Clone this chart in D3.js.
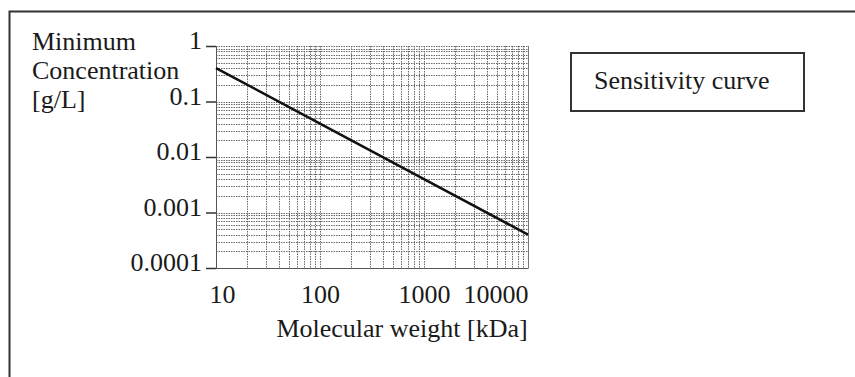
<!DOCTYPE html>
<html>
<head>
<meta charset="utf-8">
<script src="https://cdn.jsdelivr.net/npm/d3@7"></script>
<style>
  body { margin: 0; background: #fff; }
  text { font-family: "Liberation Serif", "Times New Roman", serif; fill: #1a1a1a; }
</style>
</head>
<body>
<div id="chart"></div>
<script>
// Data
const molWeight = [10, 100, 1000, 10000];
const minConc = [0.4, 0.04, 0.004, 0.0004];
const xTicks = [10, 100, 1000, 10000];
const yTicks = [1, 0.1, 0.01, 0.001, 0.0001];
const yTitle = ['Minimum', 'Concentration', '[g/L]'];
const legendLabel = 'Sensitivity curve';

// Dimensions
const width = 855;
const height = 377;
const plot = { left: 216, right: 528, top: 46, bottom: 268 };

const svg = d3.select('#chart')
  .append('svg')
  .attr('width', width)
  .attr('height', height);

// Outer frame (only top and left edges fall inside the picture)
svg.append('rect')
  .attr('x', 9.5)
  .attr('y', 11.5)
  .attr('width', width + 20)
  .attr('height', height + 20)
  .attr('fill', 'none')
  .attr('stroke', '#333')
  .attr('stroke-width', 2);

// Scales
const x = d3.scaleLog()
  .domain([10, 10000])
  .range([plot.left, plot.right]);

const y = d3.scaleLog()
  .domain([0.0001, 1])
  .range([plot.bottom, plot.top]);

// Grid: every 1..9 step in each decade
const xGrid = x.ticks();
const yGrid = y.ticks();

svg.append('g')
  .selectAll('line')
  .data(xGrid)
  .enter().append('line')
  .attr('x1', d => Math.round(x(d)) + 0.5)
  .attr('x2', d => Math.round(x(d)) + 0.5)
  .attr('y1', plot.top)
  .attr('y2', plot.bottom)
  .attr('stroke', '#6a6a6a')
  .attr('stroke-width', 1)
  .attr('stroke-dasharray', '1.5,1');

svg.append('g')
  .selectAll('line')
  .data(yGrid)
  .enter().append('line')
  .attr('x1', plot.left)
  .attr('x2', plot.right)
  .attr('y1', d => Math.round(y(d)) + 0.5)
  .attr('y2', d => Math.round(y(d)) + 0.5)
  .attr('stroke', '#6a6a6a')
  .attr('stroke-width', 1)
  .attr('stroke-dasharray', '1.5,1');

// Y axis
const yAxis = svg.append('g')
  .attr('transform', `translate(${plot.left},0)`)
  .call(d3.axisLeft(y).tickValues(yTicks).tickFormat(d3.format('~g')).tickSize(10).tickPadding(4));
yAxis.select('.domain').attr('stroke', '#555');
yAxis.selectAll('.tick line').attr('stroke', '#333').attr('stroke-width', 1.5);
yAxis.selectAll('.tick text')
  .style('font-size', '26px')
  .style('font-family', '"Liberation Serif", serif')
  .attr('fill', '#1a1a1a')
  .attr('dy', '0.1em')
  .text(d => d3.format('~f')(d));

// X axis
const xAxis = svg.append('g')
  .attr('transform', `translate(0,${plot.bottom})`)
  .call(d3.axisBottom(x).tickValues(xTicks).tickFormat(d3.format('d')).tickSize(0).tickPadding(15));
xAxis.select('.domain').attr('stroke', '#555');
xAxis.selectAll('.tick text')
  .style('font-size', '26px')
  .style('font-family', '"Liberation Serif", serif')
  .attr('fill', '#1a1a1a')
  .attr('dy', '0.75em')
  .attr('dx', (d, i) => i === 0 ? 6 : 0)
  .attr('text-anchor', (d, i) => i === xTicks.length - 1 ? 'end' : 'middle');

// Right edge of plot
svg.append('line')
  .attr('x1', plot.right + 0.5)
  .attr('x2', plot.right + 0.5)
  .attr('y1', plot.top)
  .attr('y2', plot.bottom)
  .attr('stroke', '#777');

// Sensitivity curve
const line = d3.line()
  .x((d, i) => x(molWeight[i]))
  .y(d => y(d));

svg.append('path')
  .datum(minConc)
  .attr('d', line)
  .attr('fill', 'none')
  .attr('stroke', '#111')
  .attr('stroke-width', 2.5);

// Axis titles
svg.append('text')
  .selectAll('tspan')
  .data(yTitle)
  .enter().append('tspan')
  .attr('x', 32)
  .attr('y', (d, i) => 50 + i * 29)
  .style('font-size', '26px')
  .text(d => d);

svg.append('text')
  .attr('x', 402)
  .attr('y', 337)
  .attr('text-anchor', 'middle')
  .style('font-size', '26px')
  .text('Molecular weight [kDa]');

// Legend box
svg.append('rect')
  .attr('x', 571)
  .attr('y', 53)
  .attr('width', 233)
  .attr('height', 58)
  .attr('fill', '#fff')
  .attr('stroke', '#333')
  .attr('stroke-width', 2);

svg.append('text')
  .attr('x', 594)
  .attr('y', 89)
  .style('font-size', '26px')
  .text(legendLabel);
</script>
</body>
</html>
